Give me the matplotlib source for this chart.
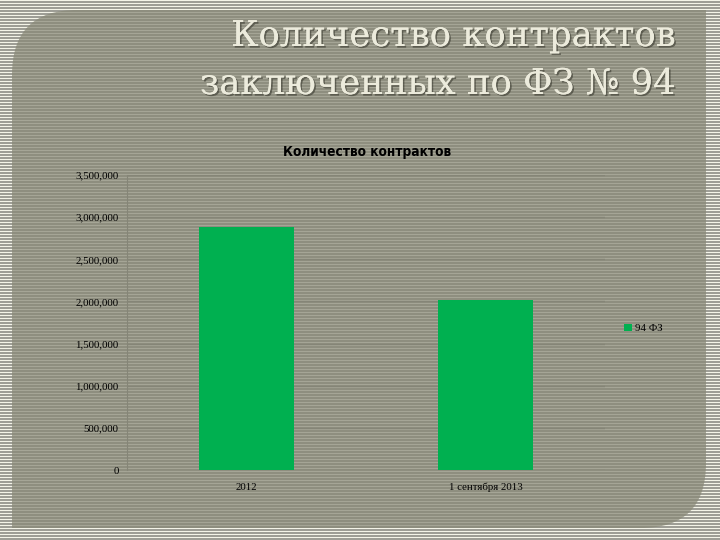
import numpy as np
import matplotlib
matplotlib.use("Agg")
import matplotlib.pyplot as plt
import matplotlib.patheffects as pe
from matplotlib.path import Path
from matplotlib.patches import PathPatch

categories = ["2012", "1 сентября 2013"]
values = [2880000, 2020000]
series_name = "94 ФЗ"
title_lines = ["Количество контрактов", "заключенных по ФЗ № 94"]
chart_title = "Количество контрактов"
yticks = [0, 500000, 1000000, 1500000, 2000000, 2500000, 3000000, 3500000]

W, H = 720, 540
fig = plt.figure(figsize=(7.2, 5.4), dpi=100)

# striped background (outer frame)
bg = fig.add_axes([0, 0, 1, 1])
bg.set_xlim(0, W)
bg.set_ylim(H, 0)
bg.axis("off")
rows = np.arange(H)
outer = np.where((rows % 3) == 0, 0.96, 0.62)
img = np.ones((H, W, 3)) * outer[:, None, None]
img[:, :, 2] *= 0.95
bg.imshow(img, extent=[0, W, H, 0], interpolation="nearest", aspect="auto")

# panel with two rounded corners (top-left, bottom-right)
x0, x1, y0, y1, r = 12, 706, 10, 528, 65
verts = [(x0 + r, y0), (x1, y0), (x1, y1 - r), (x1, y1), (x1 - r, y1),
         (x0, y1), (x0, y0 + r), (x0, y0), (x0 + r, y0)]
codes = [Path.MOVETO, Path.LINETO, Path.LINETO, Path.CURVE3, Path.CURVE3,
         Path.LINETO, Path.LINETO, Path.CURVE3, Path.CURVE3]
panel_img = np.zeros((H, W, 3))
dark = np.array([0.56, 0.56, 0.50])
light = np.array([0.65, 0.65, 0.59])
panel_img[:] = np.where(((rows % 3) == 0)[:, None, None], light, dark)
im = bg.imshow(panel_img, extent=[0, W, H, 0], interpolation="nearest", aspect="auto")
clip = PathPatch(Path(verts, codes), transform=bg.transData, facecolor="none", edgecolor="none")
bg.add_patch(clip)
im.set_clip_path(clip)

shadow = [pe.withSimplePatchShadow(offset=(1.2, -1.2), shadow_rgbFace="#3a3a30", alpha=0.6), pe.Normal()]
for i, line in enumerate(title_lines):
    fig.text(675 / W, 1 - (46 + 48 * i) / H, line, ha="right", va="baseline", fontsize=25.5,
             family="DejaVu Serif", color="#ecebdc", path_effects=shadow)

# chart
ax = fig.add_axes([127 / W, 1 - 470 / H, (605 - 127) / W, (470 - 175) / H])
ax.patch.set_alpha(0)
x = np.arange(len(categories))
ax.bar(x, values, width=0.4, color="#00b050", label=series_name, zorder=3)
ax.set_xlim(-0.5, len(categories) - 0.5)
ax.set_ylim(0, 3500000)
ax.set_yticks(yticks)
ax.set_yticklabels([f"{v:,}" for v in yticks], family="Liberation Serif", fontsize=7.8)
ax.set_xticks(x)
ax.set_xticklabels(categories, family="Liberation Serif", fontsize=7.8)
ax.tick_params(axis="y", length=0, pad=6)
ax.tick_params(axis="x", length=0, pad=9)
ax.grid(axis="y", color="#858577", linewidth=1, zorder=0)
for s in ["top", "right", "bottom"]:
    ax.spines[s].set_visible(False)
ax.spines["left"].set_color("#858577")

fig.text(367 / W, 1 - 152 / H, chart_title, ha="center", va="center", fontsize=9.8,
         fontweight="bold", fontstretch="condensed", family="DejaVu Sans", color="black")

ax.legend(loc="center left", bbox_to_anchor=(1.02, 0.48), frameon=False,
          prop={"family": "Liberation Serif", "size": 7.8}, handlelength=0.7,
          handleheight=0.7, handletextpad=0.3)

fig.savefig("out.png", dpi=100)
